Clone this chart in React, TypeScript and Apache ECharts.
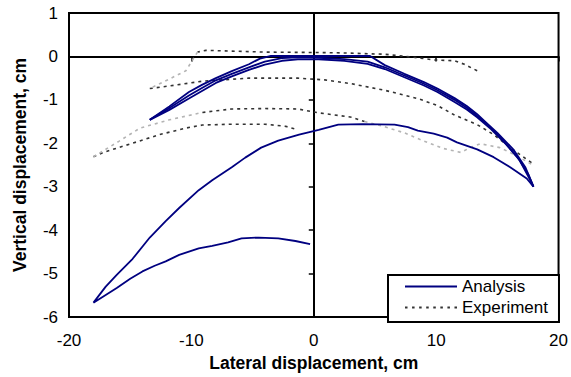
import React, { useEffect, useRef } from "react";
import * as echarts from "echarts";

// Tick values
const xTicks = [-20, -10, 0, 10, 20];
const yTicks = [-6, -5, -4, -3, -2, -1, 0, 1];

// Analysis (FE) curves, [lateral cm, vertical cm]
const analysisOuterLoop: number[][] = [
  [-0.3, -4.32], [-1.5, -4.25], [-2.9, -4.19], [-4.5, -4.17], [-5.9, -4.19], [-7.0, -4.28], [-8.3, -4.36],
  [-9.4, -4.42], [-11.0, -4.57], [-12.1, -4.72], [-13.0, -4.82], [-14.0, -4.95], [-15.0, -5.12],
  [-16.1, -5.33], [-18.0, -5.67], [-17.0, -5.3], [-16.1, -5.03], [-14.8, -4.66], [-13.4, -4.17],
  [-12.1, -3.79], [-11.0, -3.49], [-9.4, -3.08], [-8.3, -2.85], [-6.7, -2.55], [-5.6, -2.33],
  [-4.3, -2.1], [-2.9, -1.94], [-1.2, -1.8], [0.4, -1.69], [2.0, -1.57], [4.0, -1.56], [6.6, -1.57],
  [7.7, -1.63], [8.5, -1.71], [9.8, -1.78], [10.9, -1.87], [11.7, -1.98], [13.35, -2.14],
  [14.7, -2.32], [16.05, -2.55], [17.4, -2.81], [17.95, -3.0],
];
const analysisUpperA: number[][] = [
  [-13.4, -1.46], [-11.8, -1.15], [-10.2, -0.82], [-9.1, -0.65], [-8.0, -0.5], [-6.7, -0.34],
  [-5.3, -0.18], [-4.4, -0.05], [-3.5, 0.01], [0, 0.01], [2.0, 0.01], [4.6, 0.01], [5.8, -0.2],
  [7.4, -0.4], [9.0, -0.59], [10.1, -0.74], [11.5, -0.96], [12.5, -1.14], [13.35, -1.33],
  [14.0, -1.5], [15.0, -1.76], [16.3, -2.14], [17.3, -2.56], [17.95, -3.0],
];
const analysisUpperB: number[][] = [
  [-13.4, -1.46], [-11.8, -1.19], [-10.2, -0.9], [-9.1, -0.72], [-8.0, -0.55], [-6.7, -0.4],
  [-5.3, -0.25], [-4.0, -0.12], [-2.6, -0.04], [-1.3, -0.02], [0.4, -0.03], [2.5, -0.06],
  [4.4, -0.12], [5.8, -0.25], [7.4, -0.44], [9.0, -0.63], [10.1, -0.78], [11.5, -1.0],
  [12.5, -1.18], [13.35, -1.37], [14.3, -1.6], [15.5, -1.95], [16.6, -2.3], [17.5, -2.7], [17.95, -3.0],
];
const analysisUpperC: number[][] = [
  [-13.4, -1.46], [-11.8, -1.23], [-10.2, -0.97], [-9.1, -0.79], [-8.0, -0.61], [-6.7, -0.46],
  [-5.3, -0.31], [-4.0, -0.19], [-2.6, -0.1], [-1.3, -0.07], [0.4, -0.07], [2.5, -0.1],
  [4.4, -0.17], [5.8, -0.29], [7.4, -0.48], [9.0, -0.67], [10.1, -0.82], [11.5, -1.05],
  [12.5, -1.22], [13.35, -1.4], [14.5, -1.68], [15.7, -2.02], [16.8, -2.38], [17.5, -2.75], [17.95, -3.0],
];

// Experiment curves (dark dashed parts)
const expTop: number[][] = [
  [13.35, -0.33], [12.3, -0.18], [11.5, -0.1], [9.8, -0.08], [8.5, -0.03], [5.8, 0.05],
  [2.5, 0.08], [0.4, 0.09], [-4.0, 0.1], [-8.8, 0.14], [-9.5, 0.1],
];
const expUpperReturn: number[][] = [
  [-13.4, -0.74], [-11.8, -0.68], [-9.1, -0.57], [-5.3, -0.5], [-1.3, -0.5], [0.9, -0.54],
  [3.1, -0.63], [5.8, -0.78], [8.5, -0.97], [10.1, -1.13], [11.5, -1.35], [13.35, -1.57],
  [14.7, -1.8], [16.05, -2.1], [17.95, -2.48],
];
const expMidCentre: number[][] = [
  [-9.1, -1.29], [-6.7, -1.21], [-4.0, -1.2], [-1.3, -1.21], [0.4, -1.3], [3.1, -1.4], [4.15, -1.5],
];
const expLower: number[][] = [
  [-18.0, -2.31], [-17.2, -2.21], [-15.05, -2.02], [-12.6, -1.8], [-10.45, -1.65], [-9.1, -1.58],
  [-6.7, -1.56], [-4.0, -1.56], [-2.3, -1.61], [-1.3, -1.69],
];
// Experiment curves (light grey dotted parts)
const expTopDescent: number[][] = [
  [-9.5, 0.1], [-10.45, -0.33], [-11.8, -0.52], [-13.4, -0.74],
];
const expMidLeft: number[][] = [
  [-18.0, -2.31], [-15.9, -1.95], [-14.2, -1.65], [-11.8, -1.46], [-9.1, -1.29],
];
const expMidRight: number[][] = [
  [4.15, -1.5], [5.8, -1.62], [7.4, -1.76], [9.0, -1.95], [10.6, -2.12], [12.0, -2.21],
  [12.8, -2.1], [13.6, -2.01], [15.2, -2.1], [16.6, -2.29], [17.95, -2.51],
];

const FONT = "'Liberation Sans', Arial, sans-serif";
const NAVY = "#000080";
const DARK = "#333333";
const LIGHT = "#b4b4b4";

// legend icons: thin line shapes (filled paths)
const solidIcon = "path://M0,0H52V2H0Z";
const dashedIcon = (() => {
  let d = "path://";
  for (let x = 0; x < 52; x += 7) {
    const w = Math.min(2.5, 52 - x);
    d += `M${x},0H${x + w}V2H${x}Z`;
  }
  return d;
})();

export default function App() {
  const ref = useRef<HTMLDivElement>(null);
  useEffect(() => {
    if (!ref.current) return;
    const chart = echarts.init(ref.current, undefined, { renderer: "svg" });
    const ana = (data: number[][]) => ({
      type: "line",
      name: "Analysis",
      data,
      symbol: "none",
      showSymbol: false,
      smooth: false,
      lineStyle: { color: NAVY, width: 1.8 },
      itemStyle: { color: NAVY },
      z: 3,
    });
    const exp = (data: number[][], color: string) => ({
      type: "line",
      name: "Experiment",
      data,
      symbol: "none",
      showSymbol: false,
      lineStyle: { color, width: 1.6, type: [3, 4] },
      itemStyle: { color },
      z: 2,
    });
    const baseAxisLabel = { color: "#000", fontSize: 17, fontFamily: FONT };
    const nameStyle = { color: "#000", fontSize: 17.5, fontWeight: "bold" as const, fontFamily: FONT };
    chart.setOption({
      animation: false,
      backgroundColor: "#fff",
      grid: {
        left: 69, right: 10, top: 13, bottom: 54,
        show: true, borderColor: "#000", borderWidth: 2, backgroundColor: "transparent",
      },
      legend: {
        data: [
          { name: "Analysis", icon: solidIcon, itemStyle: { color: NAVY } },
          { name: "Experiment", icon: dashedIcon, itemStyle: { color: DARK } },
        ],
        orient: "vertical",
        left: 388,
        top: 275,
        itemWidth: 52,
        itemHeight: 14,
        itemGap: 4,
        padding: [3, 11, 6, 17],
        borderColor: "#000",
        borderWidth: 2,
        backgroundColor: "#fff",
        selectedMode: false,
        textStyle: { color: "#000", fontSize: 17, fontFamily: FONT },
        z: 10,
      },
      xAxis: [
        {
          type: "value", min: xTicks[0], max: xTicks[xTicks.length - 1], interval: 10,
          position: "bottom",
          axisLine: { show: false, onZero: false },
          axisTick: { show: false },
          splitLine: { show: false },
          axisLabel: { ...baseAxisLabel, margin: 15 },
          name: "Lateral displacement, cm",
          nameLocation: "middle",
          nameGap: 37,
          nameTextStyle: nameStyle,
        },
        {
          type: "value", min: xTicks[0], max: xTicks[xTicks.length - 1], interval: 10,
          position: "bottom",
          axisLine: { show: true, onZero: true, onZeroAxisIndex: 0, lineStyle: { color: "#000", width: 2 } },
          axisTick: { show: true, length: 5, lineStyle: { color: "#000", width: 1.5 } },
          splitLine: { show: false },
          axisLabel: { show: false },
        },
      ],
      yAxis: [
        {
          type: "value", min: yTicks[0], max: yTicks[yTicks.length - 1], interval: 1,
          position: "left",
          axisLine: { show: false, onZero: false },
          axisTick: { show: false },
          splitLine: { show: false },
          axisLabel: { ...baseAxisLabel, margin: 11 },
          name: "Vertical displacement, cm",
          nameLocation: "middle",
          nameGap: 40,
          nameTextStyle: nameStyle,
        },
        {
          type: "value", min: yTicks[0], max: yTicks[yTicks.length - 1], interval: 1,
          position: "left",
          axisLine: { show: true, onZero: true, onZeroAxisIndex: 0, lineStyle: { color: "#000", width: 2 } },
          axisTick: { show: true, length: 5, lineStyle: { color: "#000", width: 1.5 } },
          splitLine: { show: false },
          axisLabel: { show: false },
        },
      ],
      series: [
        ana(analysisOuterLoop),
        ana(analysisUpperA),
        ana(analysisUpperB),
        ana(analysisUpperC),
        exp(expTop, DARK),
        exp(expUpperReturn, DARK),
        exp(expMidCentre, DARK),
        exp(expLower, DARK),
        exp(expTopDescent, LIGHT),
        exp(expMidLeft, LIGHT),
        exp(expMidRight, LIGHT),
      ],
    });
    return () => chart.dispose();
  }, []);
  return <div ref={ref} style={{ width: 571, height: 377, position: "absolute", left: 0, top: 0 }} />;
}
